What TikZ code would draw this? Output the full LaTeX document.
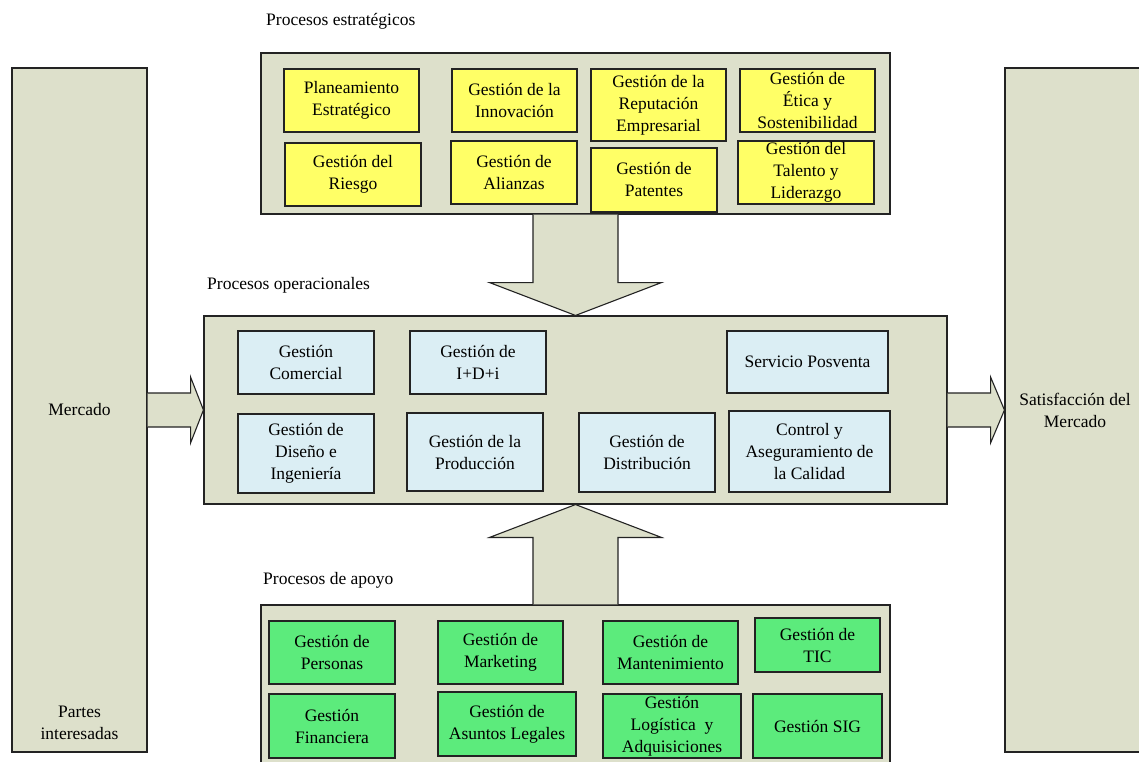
\documentclass[tikz,border=0pt]{standalone}
\usepackage{fontspec}
\setmainfont{Liberation Serif}
\usetikzlibrary{calc}
\definecolor{panel}{RGB}{221,224,203}
\definecolor{stratfill}{RGB}{255,255,102}
\definecolor{operfill}{RGB}{219,238,244}
\definecolor{suppfill}{RGB}{92,235,124}
\definecolor{edge}{RGB}{35,35,35}
\tikzset{
  base/.style={draw=edge, line width=1.1pt, inner sep=0pt, align=center,
    font=\fontsize{17.5}{22}\selectfont},
  panelbox/.style={base, fill=panel},
  stratbox/.style={base, fill=stratfill},
  operbox/.style={base, fill=operfill},
  suppbox/.style={base, fill=suppfill},
  blockarrow/.style={draw=edge, line width=1.1pt, fill=panel, line join=miter},
  heading/.style={anchor=west, inner sep=0pt, font=\fontsize{17.5}{22}\selectfont}
}
\begin{document}
\begin{tikzpicture}[x=1pt, y=-1pt]
\useasboundingbox (0,0) rectangle (1139,762);
\clip (0,0) rectangle (1139,762);
\fill[white] (0,0) rectangle (1139,762);

% side columns
\node[panelbox, minimum width=135, minimum height=684] (merc) at (79.5,410) {Mercado};
\node[base, draw=none, anchor=center] (partes) at (79.5,723) {Partes\\interesadas};
\node[panelbox, minimum width=140, minimum height=684] (sat) at (1075,410) {Satisfacci\'on del\\Mercado};

% group panels
\node[panelbox, minimum width=629, minimum height=161] (est) at (575.5,133.5) {};
\node[panelbox, minimum width=743, minimum height=188] (ope) at (575.5,410) {};
\node[panelbox, minimum width=629, minimum height=175] (sup) at (575.5,692.5) {};

% group headings
\node[heading] (hest) at (266,21) {Procesos estrat\'egicos};
\node[heading] (hope) at (207,285) {Procesos operacionales};
\node[heading] (hsup) at (263,580) {Procesos de apoyo};

% block arrows between the groups
\filldraw[blockarrow] ($(est.south)+(-42.5,0)$) -- ($(est.south)+(-42.5,68)$) -- ($(est.south)+(-86,68)$)
  -- (ope.north) -- ($(est.south)+(86,68)$) -- ($(est.south)+(42.5,68)$) -- ($(est.south)+(42.5,0)$);
\filldraw[blockarrow] ($(sup.north)+(-42.5,0)$) -- ($(sup.north)+(-42.5,-67)$) -- ($(sup.north)+(-86,-67)$)
  -- (ope.south) -- ($(sup.north)+(86,-67)$) -- ($(sup.north)+(42.5,-67)$) -- ($(sup.north)+(42.5,0)$);
\filldraw[blockarrow] ($(merc.east)+(0,-17)$) -- ($(merc.east)+(43,-17)$) -- ($(merc.east)+(43,-33)$)
  -- (ope.west) -- ($(merc.east)+(43,33)$) -- ($(merc.east)+(43,17)$) -- ($(merc.east)+(0,17)$);
\filldraw[blockarrow] ($(ope.east)+(0,-17)$) -- ($(ope.east)+(43,-17)$) -- ($(ope.east)+(43,-33)$)
  -- (sat.west) -- ($(ope.east)+(43,33)$) -- ($(ope.east)+(43,17)$) -- ($(ope.east)+(0,17)$);

% strategic processes
\node[stratbox, minimum width=135, minimum height=63] (pe)  at (351.5,100.5) {Planeamiento\\Estrat\'egico};
\node[stratbox, minimum width=125, minimum height=63] (inn) at (514.5,100.5) {Gesti\'on de la\\Innovaci\'on};
\node[stratbox, minimum width=135, minimum height=72] (rep) at (658.5,105) {Gesti\'on de la\\Reputaci\'on\\Empresarial};
\node[stratbox, minimum width=135, minimum height=63] (eti) at (807.5,100.5) {Gesti\'on de\\\'Etica y\\Sostenibilidad};
\node[stratbox, minimum width=136, minimum height=63] (rie) at (353,174.5) {Gesti\'on del\\Riesgo};
\node[stratbox, minimum width=126, minimum height=63] (ali) at (514,172.5) {Gesti\'on de\\Alianzas};
\node[stratbox, minimum width=126, minimum height=64] (pat) at (654,180) {Gesti\'on de\\Patentes};
\node[stratbox, minimum width=136, minimum height=63] (tal) at (806,172.5) {Gesti\'on del\\Talento y\\Liderazgo};

% operational processes
\node[operbox, minimum width=136, minimum height=63] (com) at (306,362.5) {Gesti\'on\\Comercial};
\node[operbox, minimum width=136, minimum height=63] (idi) at (478,362.5) {Gesti\'on de\\I+D+i};
\node[operbox, minimum width=161, minimum height=62] (pos) at (807.5,362) {Servicio Posventa};
\node[operbox, minimum width=136, minimum height=79] (dis) at (306,453.5) {Gesti\'on de\\Dise\~no e\\Ingenier\'ia};
\node[operbox, minimum width=136, minimum height=78] (pro) at (475,452) {Gesti\'on de la\\Producci\'on};
\node[operbox, minimum width=136, minimum height=79] (dst) at (647,452.5) {Gesti\'on de\\Distribuci\'on};
\node[operbox, minimum width=161, minimum height=81] (cal) at (809.5,451.5) {Control y\\Aseguramiento de\\la Calidad};

% support processes
\node[suppbox, minimum width=126, minimum height=63] (per) at (332,652.5) {Gesti\'on de\\Personas};
\node[suppbox, minimum width=125, minimum height=63] (mkt) at (500.5,652.5) {Gesti\'on de\\Marketing};
\node[suppbox, minimum width=135, minimum height=63] (man) at (670.5,652.5) {Gesti\'on de\\Mantenimiento};
\node[suppbox, minimum width=125, minimum height=54] (tic) at (817.5,645) {Gesti\'on de\\TIC};
\node[suppbox, minimum width=126, minimum height=64] (fin) at (332,726) {Gesti\'on\\Financiera};
\node[suppbox, minimum width=138, minimum height=64] (leg) at (507,724) {Gesti\'on de\\Asuntos Legales};
\node[suppbox, minimum width=138, minimum height=64] (log) at (672,726) {Gesti\'on\\Log\'istica\enspace y\\Adquisiciones};
\node[suppbox, minimum width=129, minimum height=64] (sig) at (817.5,726) {Gesti\'on SIG};
\end{tikzpicture}
\end{document}
